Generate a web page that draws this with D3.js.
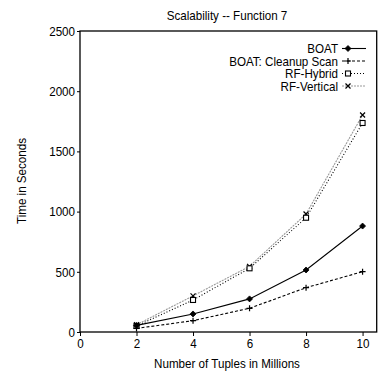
<!DOCTYPE html>
<html>
<head>
<meta charset="utf-8">
<script src="https://cdn.jsdelivr.net/npm/d3@7"></script>
<style>
  body { margin: 0; background: #fff; }
  svg { display: block; }
  svg text { font-family: 'Liberation Sans', Arial, sans-serif; }
</style>
</head>
<body>
<svg id="chart" width="384" height="374"></svg>
<script>
// data
var tuples = [2, 4, 6, 8, 10];
var boat = [55, 150, 275, 515, 880];
var boatCleanup = [30, 94, 197, 368, 501];
var rfHybrid = [50, 266, 529, 949, 1736];
var rfVertical = [60, 300, 545, 980, 1802];
var xTicks = [0, 2, 4, 6, 8, 10];
var yTicks = [0, 500, 1000, 1500, 2000, 2500];

var series = [
  { name: "BOAT", values: boat, color: "#000", dash: null, marker: "diamond" },
  { name: "BOAT: Cleanup Scan", values: boatCleanup, color: "#000", dash: "3,2", marker: "plus" },
  { name: "RF-Hybrid", values: rfHybrid, color: "#000", dash: "1,2", marker: "square" },
  { name: "RF-Vertical", values: rfVertical, color: "#999", dash: "2,1", marker: "cross" }
];

var plotLeft = 80, plotRight = 376.7, plotTop = 31, plotBottom = 332;
var fs = 13.5;
var squeeze = 0.86; // the original font is a condensed sans

var x = d3.scaleLinear().domain([0, 10.5]).range([plotLeft, plotRight]);
var y = d3.scaleLinear().domain([0, 2500]).range([plotBottom, plotTop]);

var svg = d3.select("#chart");

// frame
svg.append("rect")
  .attr("x", plotLeft).attr("y", plotTop)
  .attr("width", plotRight - plotLeft).attr("height", plotBottom - plotTop)
  .attr("fill", "none").attr("stroke", "#000").attr("stroke-width", 1.3);

var xAxis = svg.append("g")
  .attr("transform", "translate(0," + plotBottom + ")")
  .call(d3.axisBottom(x).tickValues(xTicks).tickFormat(d3.format("d")).tickSize(4).tickPadding(2));
var yAxis = svg.append("g")
  .attr("transform", "translate(" + plotLeft + ",0)")
  .call(d3.axisLeft(y).tickValues(yTicks).tickFormat(d3.format("d")).tickSize(3).tickPadding(2));

[xAxis, yAxis].forEach(function(a) {
  a.select(".domain").remove();
  a.attr("font-family", null);
  a.selectAll("text").attr("font-size", fs).attr("fill", "#000");
});

svg.append("text")
  .attr("x", 227).attr("y", 20)
  .attr("text-anchor", "middle").attr("font-size", fs)
  .text("Scalability -- Function 7");

svg.append("text")
  .attr("x", 227).attr("y", 368)
  .attr("text-anchor", "middle").attr("font-size", fs)
  .text("Number of Tuples in Millions");

svg.append("text")
  .attr("transform", "translate(26,181) rotate(-90)")
  .attr("text-anchor", "middle").attr("font-size", fs)
  .text("Time in Seconds");

function drawMarker(g, type, cx, cy, color) {
  if (type === "diamond") {
    g.append("path")
      .attr("d", "M" + cx + "," + (cy - 3) + "L" + (cx + 3) + "," + cy + "L" + cx + "," + (cy + 3) + "L" + (cx - 3) + "," + cy + "Z")
      .attr("fill", color).attr("stroke", color).attr("stroke-width", 0.8);
  } else if (type === "plus") {
    g.append("path")
      .attr("d", "M" + (cx - 3) + "," + cy + "H" + (cx + 3) + "M" + cx + "," + (cy - 3) + "V" + (cy + 3))
      .attr("stroke", color).attr("stroke-width", 1.2);
  } else if (type === "square") {
    g.append("rect")
      .attr("x", cx - 2.5).attr("y", cy - 2.5).attr("width", 5).attr("height", 5)
      .attr("fill", "#fff").attr("stroke", "#000").attr("stroke-width", 1.1);
  } else if (type === "cross") {
    g.append("path")
      .attr("d", "M" + (cx - 2.5) + "," + (cy - 2.5) + "L" + (cx + 2.5) + "," + (cy + 2.5) + "M" + (cx + 2.5) + "," + (cy - 2.5) + "L" + (cx - 2.5) + "," + (cy + 2.5))
      .attr("stroke", "#000").attr("stroke-width", 1.2);
  }
}

var line = d3.line()
  .x(function(d, i) { return x(tuples[i]); })
  .y(function(d) { return y(d); });

// draw back to front so BOAT sits on top
series.slice().reverse().forEach(function(s) {
  var g = svg.append("g");
  g.append("path")
    .attr("d", line(s.values))
    .attr("fill", "none")
    .attr("stroke", s.color)
    .attr("stroke-width", 1.1)
    .attr("stroke-dasharray", s.dash);
  s.values.forEach(function(v, i) {
    drawMarker(g, s.marker, x(tuples[i]), y(v), s.color);
  });
});

// legend
var legendY = [48.5, 61, 73.5, 86];
series.forEach(function(s, i) {
  var g = svg.append("g");
  g.append("text")
    .attr("x", 338).attr("y", legendY[i] + 4.5)
    .attr("text-anchor", "end").attr("font-size", fs)
    .text(s.name);
  g.append("line")
    .attr("x1", 342).attr("x2", 366)
    .attr("y1", legendY[i]).attr("y2", legendY[i])
    .attr("stroke", s.color).attr("stroke-width", 1.1)
    .attr("stroke-dasharray", s.dash);
  drawMarker(g, s.marker, 348, legendY[i], s.color);
});

// squeeze every label horizontally
svg.selectAll("text").each(function() {
  var w = this.getComputedTextLength();
  d3.select(this).attr("textLength", w * squeeze).attr("lengthAdjust", "spacingAndGlyphs");
});
</script>
</body>
</html>
